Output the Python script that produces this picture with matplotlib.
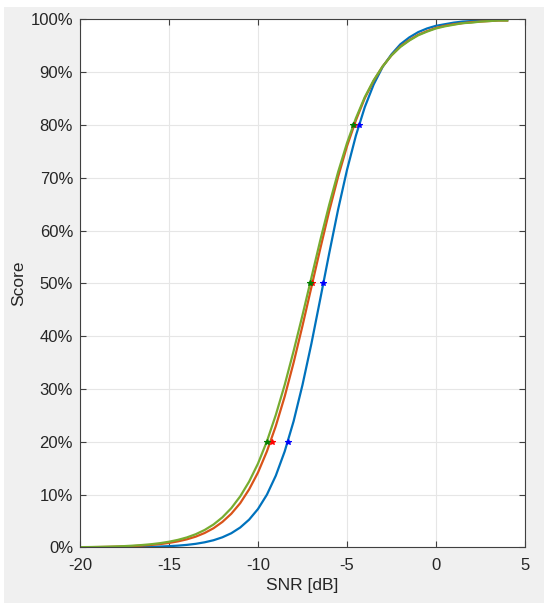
import matplotlib.pyplot as plt
from matplotlib.patches import Rectangle
from matplotlib.ticker import PercentFormatter

# SNR grid and scores (fraction, 0..1)
snr = [-20, -19.5, -19, -18.5, -18, -17.5, -17, -16.5, -16, -15.5, -15, -14.5, -14,
       -13.5, -13, -12.5, -12, -11.5, -11, -10.5, -10, -9.5, -9, -8.5, -8, -7.5, -7,
       -6.5, -6, -5.5, -5, -4.5, -4, -3.5, -3, -2.5, -2, -1.5, -1, -0.5, 0,
       0.5, 1, 1.5, 2, 2.5, 3, 3.5, 4]

score_blue = [0.0001, 0.0001, 0.00015, 0.0002, 0.0003, 0.0004, 0.0006, 0.0009, 0.0012, 0.0018, 0.0025,
              0.0035, 0.0049, 0.0069, 0.0098, 0.0137, 0.0193, 0.0270, 0.0378, 0.0527, 0.0729,
              0.100, 0.136, 0.182, 0.239, 0.308, 0.386, 0.471, 0.557, 0.640, 0.715, 0.780,
              0.834, 0.877, 0.910, 0.934, 0.953, 0.966, 0.976, 0.983, 0.988, 0.991, 0.994,
              0.996, 0.997, 0.998, 0.998, 0.999, 0.999]

score_red = [0.00045, 0.0006, 0.0008, 0.0011, 0.0015, 0.0020, 0.0027, 0.0036, 0.0048, 0.0064, 0.0086,
             0.0115, 0.0154, 0.0205, 0.0274, 0.0364, 0.0484, 0.0639, 0.0839, 0.110, 0.142,
             0.182, 0.230, 0.286, 0.350, 0.420, 0.493, 0.566, 0.637, 0.702, 0.760, 0.809,
             0.851, 0.884, 0.911, 0.932, 0.949, 0.961, 0.971, 0.978, 0.984, 0.988, 0.991,
             0.993, 0.995, 0.996, 0.997, 0.998, 0.998]

score_green = [0.00063, 0.0008, 0.00112, 0.0015, 0.00198, 0.0026, 0.0035, 0.0047, 0.0062, 0.0082, 0.0109,
               0.0144, 0.0190, 0.0251, 0.0331, 0.0435, 0.0571, 0.0745, 0.0968, 0.1247, 0.159,
               0.201, 0.251, 0.308, 0.372, 0.440, 0.511, 0.582, 0.649, 0.711, 0.766, 0.813,
               0.853, 0.885, 0.911, 0.932, 0.948, 0.960, 0.970, 0.977, 0.983, 0.987, 0.990,
               0.993, 0.994, 0.996, 0.997, 0.998, 0.998]

# 20 / 50 / 80 % points
mark_levels = [0.2, 0.5, 0.8]
mark_blue = [-8.33, -6.33, -4.33]
mark_red = [-9.2, -6.95, -4.6]
mark_green = [-9.5, -7.08, -4.64]

plt.rcParams['font.family'] = ['Liberation Sans', 'DejaVu Sans']
plt.rcParams['axes.unicode_minus'] = False  # matlab prints a plain hyphen

fig = plt.figure(figsize=(5.5, 6.1), dpi=100, facecolor='white')
# matlab-style grey figure panel
fig.patches.append(Rectangle((0.0073, 0.0115), 0.9817, 0.977, transform=fig.transFigure,
                             facecolor='#f0f0f0', edgecolor='none', zorder=-1))

ax = fig.add_axes([0.1455, 0.1025, 0.809, 0.8656])
ax.set_facecolor('white')

ax.plot(snr, score_blue, color='#0072BD', lw=1.6)
ax.plot(snr, score_red, color='#D95319', lw=1.6)
ax.plot(snr, score_green, color='#77AC30', lw=1.6)

ax.plot(mark_blue, mark_levels, 'b*', ms=4, mew=0.8)
ax.plot(mark_red, mark_levels, 'r*', ms=4, mew=0.8)
ax.plot(mark_green, mark_levels, 'g*', ms=4, mew=0.8)

ax.set_xlim(-20, 5)
ax.set_ylim(0, 1)
ax.set_xticks([-20, -15, -10, -5, 0, 5])
ax.set_yticks([i / 10 for i in range(11)])
ax.yaxis.set_major_formatter(PercentFormatter(1.0, decimals=0))

ax.grid(True, color='#e6e6e6', lw=0.8)
ax.set_axisbelow(True)
ax.tick_params(direction='in', length=4, width=0.8, color='#404040',
               labelsize=12, labelcolor='#262626', top=True, right=True)
ax.tick_params(axis='x', pad=7.5)
ax.tick_params(axis='y', pad=5)
for s in ax.spines.values():
    s.set_color('#404040')
    s.set_linewidth(0.8)

ax.set_xlabel('SNR [dB]', fontsize=12.5, color='#262626', labelpad=4)
ax.set_ylabel('Score', fontsize=12.5, color='#262626', labelpad=3)

fig.savefig('out.png', dpi=100, facecolor=fig.get_facecolor())
